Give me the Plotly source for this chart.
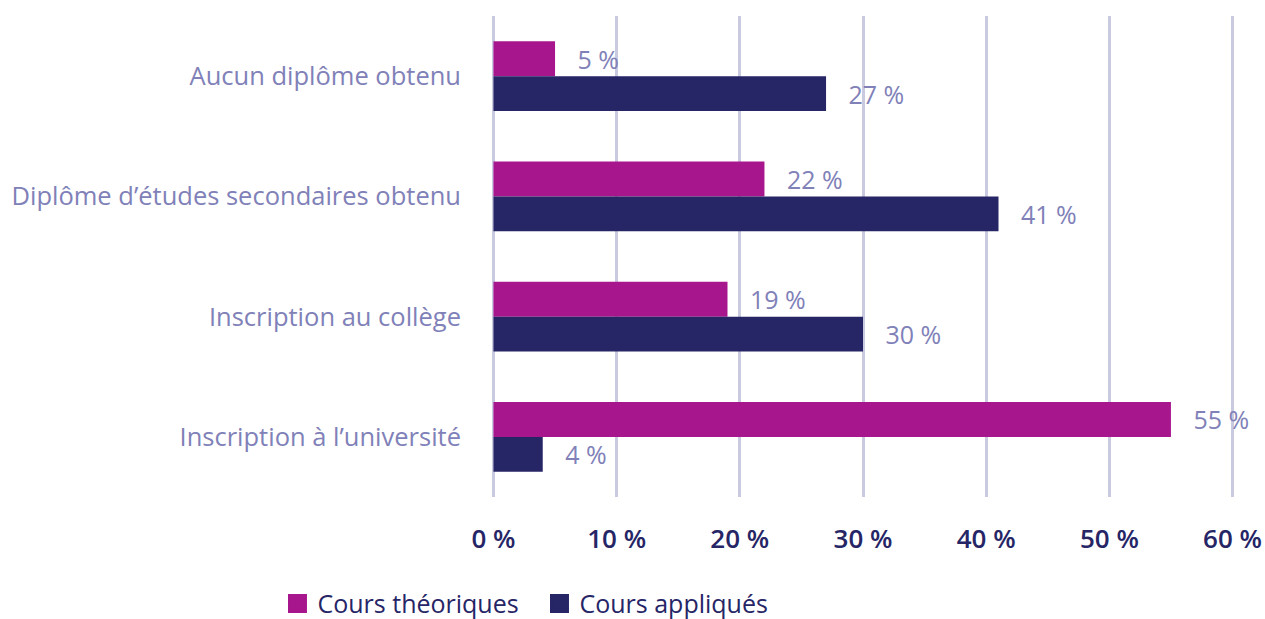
import plotly.graph_objects as go

categories = ["Aucun diplôme obtenu", "Diplôme d’études secondaires obtenu",
              "Inscription au collège", "Inscription à l’université"]
theoriques = [5, 22, 19, 55]
appliques = [27, 41, 30, 4]
x_ticks = [0, 10, 20, 30, 40, 50, 60]
x_ticklabels = ["0 %", "10 %", "20 %", "30 %", "40 %", "50 %", "60 %"]
series_names = ["Cours théoriques", "Cours appliqués"]

FONT = "Open Sans"
LABEL_COLOR = "#8081b8"
NAVY = "#262566"
MAGENTA = "#a8168e"
PAD = "\u00a0\u00a0\u00a0"

fig = go.Figure()
for name, vals, col in [(series_names[0], theoriques, MAGENTA),
                        (series_names[1], appliques, NAVY)]:
    fig.add_trace(go.Bar(
        y=categories, x=vals, orientation="h", name=name, showlegend=False,
        marker=dict(color=col, line=dict(width=0)),
        text=[f"{PAD}{v} %" for v in vals], textposition="outside",
        textfont=dict(family=FONT, size=25, color=LABEL_COLOR),
        cliponaxis=False, constraintext="none",
    ))
# legend entries with larger square swatches
for name, col in [(series_names[0], MAGENTA), (series_names[1], NAVY)]:
    fig.add_trace(go.Scatter(
        x=[None], y=[None], mode="markers", name=name,
        marker=dict(symbol="square", size=16, color=col, line=dict(color=col, width=3)),
    ))

fig.update_layout(
    width=1265, height=619,
    barmode="group", bargap=0.42, bargroupgap=0,
    plot_bgcolor="white", paper_bgcolor="white",
    margin=dict(l=491, r=30, t=16, b=122, autoexpand=False),
    font=dict(family=FONT),
    xaxis=dict(
        range=[-0.2, 60.2], tickvals=x_ticks, ticktext=x_ticklabels,
        showgrid=True, gridcolor="#c9c9df", gridwidth=3,
        zeroline=False, showline=False, ticks="", automargin=False,
        tickfont=dict(family=FONT, size=26, color=NAVY, weight=600),
        ticklabelstandoff=24,
    ),
    yaxis=dict(
        categoryorder="array", categoryarray=categories, autorange="reversed",
        showgrid=False, zeroline=False, showline=False, ticks="", automargin=False,
        tickfont=dict(family=FONT, size=25.5, color=LABEL_COLOR),
        ticklabelstandoff=29,
    ),
    legend=dict(
        orientation="h", x=-0.287, xanchor="left", y=-0.222, yanchor="middle",
        font=dict(family=FONT, size=25, color=NAVY),
        itemwidth=30, traceorder="normal", entrywidth=217,
    ),
    showlegend=True,
)

fig.write_html(
    "out.html",
    config={"displayModeBar": False},
    post_script="document.body.style.margin='0';document.body.style.overflow='hidden';",
)
